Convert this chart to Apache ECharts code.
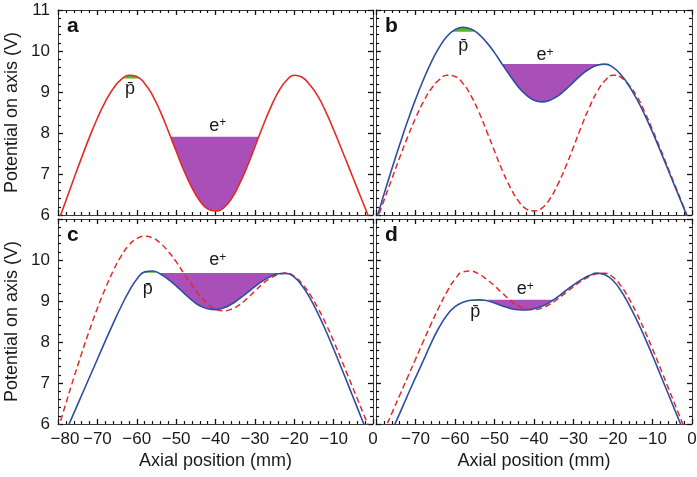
<!DOCTYPE html>
<html><head><meta charset="utf-8">
<script src="https://cdn.jsdelivr.net/npm/echarts@6/dist/echarts.min.js"></script>
<style>html,body{margin:0;padding:0;background:#fff}#c{width:697px;height:477px}</style>
</head><body><div id="c"></div>
<script>
// ---------------- data ----------------
const xs = [-80,-78,-76,-74,-72,-70,-68,-66,-64,-62,-60,-58,-56,-54,-52,-50,-48,-46,-44,-42,-40,
            -38,-36,-34,-32,-30,-28,-26,-24,-22,-20,-18,-16,-14,-12,-10,-8,-6,-4,-2,0];
// panel a solid (red)
const curveA = [5.82,6.35,6.88,7.40,7.90,8.36,8.76,9.08,9.30,9.41,9.38,9.21,8.92,8.52,8.05,7.56,7.08,6.67,6.35,6.15,6.10,
                6.17,6.39,6.74,7.17,7.66,8.16,8.62,9.01,9.28,9.41,9.36,9.17,8.90,8.52,8.08,7.61,7.13,6.65,6.17,5.69];
// panel b solid (blue)
const curveB = [5.86,6.50,7.12,7.72,8.29,8.82,9.30,9.73,10.09,10.36,10.52,10.58,10.54,10.41,10.21,9.96,9.67,9.39,9.13,8.93,8.80,
                8.76,8.80,8.90,9.06,9.24,9.42,9.56,9.65,9.68,9.60,9.42,9.16,8.83,8.45,8.02,7.56,7.09,6.62,6.15,5.68];
// panel c solid (blue)
const curveC = [5.38,5.82,6.26,6.70,7.14,7.58,8.02,8.45,8.86,9.23,9.53,9.71,9.73,9.66,9.53,9.37,9.19,9.02,8.885,8.81,8.79,
                8.83,8.92,9.05,9.20,9.35,9.49,9.60,9.665,9.675,9.58,9.37,9.07,8.70,8.28,7.83,7.36,6.88,6.40,5.92,5.44];
// panel d solid (blue)
const curveD = [4.95,5.39,5.83,6.26,6.70,7.13,7.55,7.98,8.36,8.66,8.86,8.97,9.02,9.03,9.01,8.95,8.88,8.82,8.785,8.78,8.81,
                8.87,8.97,9.10,9.25,9.39,9.52,9.62,9.68,9.64,9.50,9.25,8.92,8.54,8.12,7.67,7.20,6.73,6.26,5.79,5.32];

const panelLetters = ['a','b','c','d'];
// antiproton (green) fill: level and x-range per panel
const pbarLevel = [9.33, 10.47, 9.69, 9.00];
const pbarRange = [[-63.3,-59.4],[-61.0,-55.0],[-58.2,-54.9],[-57.3,-51.7]];
// positron (purple) fill: level and x-range per panel
const posLevel = [7.91, 9.68, 9.68, 9.03];
const posRange = [[-51.4,-29.0],[-48.2,-22.5],[-54.9,-22.5],[-51.7,-35.1]];
// label anchors (data coordinates)
const pbarLabelAt = [[-61.7,9.07],[-57.9,10.13],[-57.2,9.28],[-54.9,8.73]];
const posLabelAt  = [[-39.4,8.17],[-37.2,9.89],[-39.4,9.99],[-42.2,9.28]];

const xTickLabels = [-80,-70,-60,-50,-40,-30,-20,-10,0];
const yTickLabels = [6,7,8,9,10,11];

// ---------------- styling ----------------
const FONT = '"Liberation Sans", Arial, Helvetica, sans-serif';
const RED = '#e42a26', BLUE = '#2d4ea3', PURPLE = '#a84fb8', GREEN = '#56b42a', FRAME = '#3a3a3a', TXT = '#1a1a1a';
const TICK = '#111111';

const solids = [curveA, curveB, curveC, curveD];
const solidColors = [RED, BLUE, BLUE, BLUE];
const dashed = [null, curveA, curveB, curveC];

const grids = [
  {left:58,  top:10,  width:315, height:205},
  {left:376, top:10,  width:316, height:205},
  {left:58,  top:219, width:315, height:205},
  {left:376, top:219, width:316, height:205}
];

const minus = v => String(v).replace('-', '\u2212');

function xAxis(g, pos, labels) {
  return {
    type:'value', gridIndex:g, position:pos, min:xTickLabels[0], max:xTickLabels[xTickLabels.length-1], interval:10,
    axisLine:{show:true, onZero:false, lineStyle:{color:FRAME, width:1}},
    axisTick:{show:true, inside:true, length:5, lineStyle:{color:TICK, width:1.3}},
    minorTick:{show:true, splitNumber:5, length:3, lineStyle:{color:TICK, width:1.2}},
    splitLine:{show:false},
    axisLabel: labels ? {
      show:true, margin:7, fontSize:17, color:TXT, fontFamily:FONT,
      showMinLabel: g === 2, showMaxLabel:true,
      formatter: v => (v === -80 ? '{m|' + minus(v) + '}' : minus(v)),
      rich:{m:{fontSize:17, fontFamily:FONT, color:TXT, padding:[0,0,0,14]}}
    } : {show:false},
    name: labels ? 'Axial position (mm)' : '',
    nameLocation:'middle', nameGap:28,
    nameTextStyle:{fontSize:18, color:TXT, fontFamily:FONT}
  };
}
function yAxis(g, pos, labels) {
  return {
    type:'value', gridIndex:g, position:pos, min:yTickLabels[0], max:yTickLabels[yTickLabels.length-1], interval:1,
    axisLine:{show:true, onZero:false, lineStyle:{color:FRAME, width:1}},
    axisTick:{show:true, inside:true, length:5, lineStyle:{color:TICK, width:1.3}},
    minorTick:{show:true, splitNumber:5, length:3, lineStyle:{color:TICK, width:1.2}},
    splitLine:{show:false},
    axisLabel: labels ? {
      show:true, margin:8, fontSize:17, color:TXT, fontFamily:FONT,
      showMinLabel:true, showMaxLabel: g === 0
    } : {show:false},
    name: labels ? 'Potential on axis (V)' : '',
    nameLocation:'middle', nameGap:37,
    nameTextStyle:{fontSize:18, color:TXT, fontFamily:FONT}
  };
}

const xAxes = [], yAxes = [];
grids.forEach((gr, g) => {
  xAxes.push(xAxis(g, 'bottom', g >= 2));
  xAxes.push(xAxis(g, 'top', false));
  yAxes.push(yAxis(g, 'left', g === 0 || g === 2));
  yAxes.push(yAxis(g, 'right', false));
});

function fillData(curve, range, level) {
  const pts = [[range[0], level]];
  xs.forEach((x, i) => { if (x > range[0] && x < range[1]) pts.push([x, curve[i]]); });
  pts.push([range[1], level]);
  return pts;
}

const series = [];
grids.forEach((gr, g) => {
  const curve = solids[g];
  series.push({
    type:'line', xAxisIndex:2*g, yAxisIndex:2*g, smooth:true, symbol:'none', silent:true, z:1,
    data: fillData(curve, posRange[g], posLevel[g]),
    lineStyle:{width:0}, areaStyle:{color:PURPLE, opacity:1, origin:posLevel[g]}
  });
  series.push({
    type:'line', xAxisIndex:2*g, yAxisIndex:2*g, smooth:true, symbol:'none', silent:true, z:1,
    data: fillData(curve, pbarRange[g], pbarLevel[g]),
    lineStyle:{width:0}, areaStyle:{color:GREEN, opacity:1, origin:pbarLevel[g]}
  });
  if (dashed[g]) {
    series.push({
      type:'line', xAxisIndex:2*g, yAxisIndex:2*g, smooth:true, symbol:'none', silent:true, z:3,
      data: xs.map((x, i) => [x, dashed[g][i]]),
      lineStyle:{color:RED, width:1.5, type:[6,3.5]}
    });
  }
  series.push({
    type:'line', xAxisIndex:2*g, yAxisIndex:2*g, smooth:true, symbol:'none', silent:true, z:4,
    data: xs.map((x, i) => [x, curve[i]]),
    lineStyle:{color:solidColors[g], width:1.6},
    markPoint:{
      silent:true, symbol:'circle', symbolSize:0,
      data:[
        {coord:pbarLabelAt[g], label:{show:true, position:'inside', formatter:'p\u0304', fontSize:18, color:TXT, fontFamily:FONT}},
        {coord:posLabelAt[g], label:{show:true, position:'inside', formatter:'{e|e}{s|+}',
          rich:{e:{fontSize:18, lineHeight:18, color:TXT, fontFamily:FONT},
                s:{fontSize:12, lineHeight:12, color:TXT, fontFamily:FONT, verticalAlign:'top'}}}}
      ]
    }
  });
});

const titles = grids.map((gr, g) => ({
  text: panelLetters[g], left: gr.left + 9, top: gr.top + 6, padding:0,
  textStyle:{fontSize:21, fontWeight:'bold', color:'#111', fontFamily:FONT}
}));

const chart = echarts.init(document.getElementById('c'), null, {renderer:'canvas'});
chart.setOption({
  animation:false,
  backgroundColor:'#fff',
  title: titles,
  grid: grids.map(g => Object.assign({containLabel:false, outerBoundsMode:'none', show:false}, g)),
  xAxis: xAxes,
  yAxis: yAxes,
  series: series
});
</script>
</body></html>
